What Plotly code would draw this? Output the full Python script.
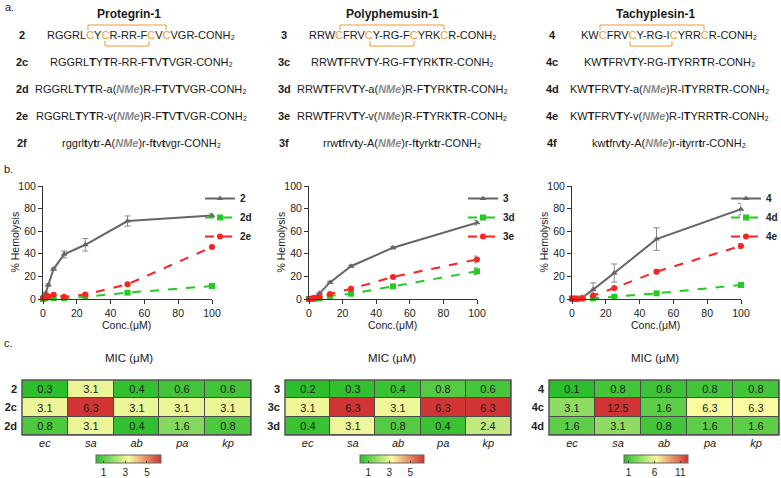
import plotly.graph_objects as go

W, H = 781, 478
FONT = "Liberation Sans, Arial, sans-serif"

def px(x):
    return x / W

def py(y):
    return 1 - y / H

# ---------------- data ----------------
peptides = ["Protegrin-1", "Polyphemusin-1", "Tachyplesin-1"]
row_ids = [["2", "2c", "2d", "2e", "2f"],
           ["3", "3c", "3d", "3e", "3f"],
           ["4", "4c", "4d", "4e", "4f"]]

OR = "<span style='color:#f39a2c'>C</span>"
NME = "(<span style='color:#8a8a8a'><b><i>NMe</i></b></span>)"
T = "<b>T</b>"
t = "<b>t</b>"
sequences = [
    ["RGGRL" + OR + "Y" + OR + "R-RR-F" + OR + "V" + OR + "VGR-CONH₂",
     "RGGRL" + T + "Y" + T + "R-RR-F" + T + "V" + T + "VGR-CONH₂",
     "RGGRL" + T + "Y" + T + "R-a" + NME + "R-F" + T + "V" + T + "VGR-CONH₂",
     "RGGRL" + T + "Y" + T + "R-v" + NME + "R-F" + T + "V" + T + "VGR-CONH₂",
     "rggrl" + t + "y" + t + "r-A" + NME + "r-f" + t + "v" + t + "vgr-CONH₂"],
    ["RRW" + OR + "FRV" + OR + "Y-RG-F" + OR + "YRK" + OR + "R-CONH₂",
     "RRW" + T + "FRV" + T + "Y-RG-F" + T + "YRK" + T + "R-CONH₂",
     "RRW" + T + "FRV" + T + "Y-a" + NME + "R-F" + T + "YRK" + T + "R-CONH₂",
     "RRW" + T + "FRV" + T + "Y-v" + NME + "R-F" + T + "YRK" + T + "R-CONH₂",
     "rrw" + t + "frv" + t + "y-A" + NME + "r-f" + t + "yrk" + t + "r-CONH₂"],
    ["KW" + OR + "FRV" + OR + "Y-RG-I" + OR + "YRR" + OR + "R-CONH₂",
     "KW" + T + "FRV" + T + "Y-RG-I" + T + "YRR" + T + "R-CONH₂",
     "KW" + T + "FRV" + T + "Y-a" + NME + "R-I" + T + "YRR" + T + "R-CONH₂",
     "KW" + T + "FRV" + T + "Y-v" + NME + "R-I" + T + "YRR" + T + "R-CONH₂",
     "kw" + t + "frv" + t + "y-A" + NME + "r-i" + t + "yrr" + t + "r-CONH₂"],
]

conc = [0, 1.5625, 3.125, 6.25, 12.5, 25, 50, 100]
hemo_names = [["2", "2d", "2e"], ["3", "3d", "3e"], ["4", "4d", "4e"]]
hemo_vals = [
    [[2, 5, 12.4, 26.5, 39.5, 48, 69, 74],
     [0, 0.5, 1.8, 0.8, 0.6, 2, 5.6, 11.5],
     [1, 1.5, 2.5, 3.8, 2, 4, 13, 46]],
    [[0, 0, 1, 5, 14.7, 29, 45.4, 67.5],
     [0, 0, 0, 0.5, 2.7, 4.7, 11.2, 24.5],
     [0, 0.5, 1, 1.5, 4.4, 9, 19.5, 35]],
    [[0, 0, 0, 1.5, 8.3, 23, 53, 79.4],
     [0.5, 0.5, 0.3, 0.5, 0.6, 2, 5, 12.4],
     [0, 0, 0, 0.5, 3, 9.7, 24.2, 47]],
]
hemo_err = [
    [[1, 1, 1, 1, 3, 5.5, 4.5, 1.5],
     [0, 0, 0, 0, 0, 0.5, 0.5, 1],
     [0, 0, 0, 0, 0.5, 0.5, 1, 1]],
    [[0, 0, 0, 0.5, 1, 1, 1, 2],
     [0, 0, 0, 0, 0.5, 0.5, 1, 3],
     [0, 0, 0, 0, 0.5, 1, 1, 3]],
    [[0, 0, 0, 1, 6, 8, 10, 5],
     [0, 0, 0, 0, 0, 0.5, 0.5, 1],
     [0, 0, 0, 0, 0.5, 1, 1.5, 2]],
]

strains = ["ec", "sa", "ab", "pa", "kp"]
mic_rows = [["2", "2c", "2d"], ["3", "3c", "3d"], ["4", "4c", "4d"]]
mic_vals = [
    [[0.3, 3.1, 0.4, 0.6, 0.6],
     [3.1, 6.3, 3.1, 3.1, 3.1],
     [0.8, 3.1, 0.4, 1.6, 0.8]],
    [[0.2, 0.3, 0.4, 0.8, 0.6],
     [3.1, 6.3, 3.1, 6.3, 6.3],
     [0.4, 3.1, 0.8, 0.4, 2.4]],
    [[0.1, 0.8, 0.6, 0.8, 0.8],
     [3.1, 12.5, 1.6, 6.3, 6.3],
     [1.6, 3.1, 0.8, 1.6, 1.6]],
]
cbar_ticks = [[1, 3, 5], [1, 3, 5], [1, 6, 11]]

# ---------------- layout geometry (pixels) ----------------
title_cx = [129, 392, 655]
label_cx = [22, 284, 552]
seq_cx = [141, 402, 669]
row_y = [35, 62, 89, 116, 143]
line_x = [(43, 212), (309, 477), (572, 741)]
line_y = (186, 299)
legend_x = [200, 463, 726]
heat_x = [(22, 251), (285, 511), (549, 779)]
heat_y = (380, 435)
cbar_cx = [128.5, 392, 656]
cbar_len = [65, 64, 64]
brackets = [((88, 166), (105, 149)), ((340, 444), (370, 414)), ((600, 704), (630, 672))]

styles = [dict(color="#666666", dash="solid", symbol="triangle-up"),
          dict(color="#22cc22", dash="dash", symbol="square"),
          dict(color="#ff2020", dash="dash", symbol="circle")]

colorscale = [[0, "rgb(44,190,44)"], [0.5, "rgb(250,250,160)"], [1, "rgb(208,52,52)"]]

fig = go.Figure()
annotations = []
shapes = []

def ann(text, x, y, size=11, xanchor="center", yanchor="middle", **kw):
    annotations.append(dict(text=text, x=px(x), y=py(y), xref="paper", yref="paper",
                            showarrow=False, xanchor=xanchor, yanchor=yanchor,
                            font=dict(family=FONT, size=size, color=kw.pop("color", "#1a1a1a")), **kw))

# panel letters
ann("a.", 3, 7, size=11, xanchor="left")
ann("b.", 2, 169, size=11, xanchor="left")
ann("c.", 2, 343, size=11, xanchor="left")

for p in range(3):
    # ---- panel a ----
    ann("<b>" + peptides[p] + "</b>", title_cx[p], 14, size=12)
    for r in range(5):
        ann("<b>" + row_ids[p][r] + "</b>", label_cx[p], row_y[r], size=11)
        ann(sequences[p][r], seq_cx[p], row_y[r], size=11)
    (tx0, tx1), (bx0, bx1) = brackets[p]
    shapes.append(dict(type="path", xref="paper", yref="paper",
                       path=f"M{px(tx0)},{py(30)} L{px(tx0)},{py(25)} L{px(tx1)},{py(25)} L{px(tx1)},{py(30)}",
                       line=dict(color="#f39a2c", width=1)))
    shapes.append(dict(type="path", xref="paper", yref="paper",
                       path=f"M{px(bx0)},{py(41)} L{px(bx0)},{py(46)} L{px(bx1)},{py(46)} L{px(bx1)},{py(41)}",
                       line=dict(color="#f39a2c", width=1)))

    # ---- panel b ----
    n = p + 1
    xa = "x" if n == 1 else f"x{n}"
    ya = "y" if n == 1 else f"y{n}"
    lg = "legend" if n == 1 else f"legend{n}"
    for s in range(3):
        st = styles[s]
        fig.add_trace(go.Scatter(
            x=conc, y=hemo_vals[p][s], xaxis=xa, yaxis=ya, legend=lg,
            name="<b>" + hemo_names[p][s] + "</b>", mode="lines+markers",
            line=dict(color=st["color"], dash=st["dash"], width=2),
            marker=dict(symbol=st["symbol"], size=6, color=st["color"]),
            error_y=dict(type="data", array=hemo_err[p][s], visible=True,
                         color="#8a8a8a", thickness=1, width=3),
            cliponaxis=False))
    axis_common = dict(showline=True, linecolor="#333333", linewidth=1, ticks="outside",
                       ticklen=4, tickcolor="#333333", showgrid=False, zeroline=False,
                       tickfont=dict(family=FONT, size=10.5, color="#222222"))
    fig.update_layout(**{
        ("xaxis" if n == 1 else f"xaxis{n}"): dict(domain=[px(line_x[p][0]), px(line_x[p][1])],
                                                   range=[0, 100], tickvals=[0, 20, 40, 60, 80, 100],
                                                   anchor=ya, **axis_common),
        ("yaxis" if n == 1 else f"yaxis{n}"): dict(domain=[py(line_y[1]), py(line_y[0])],
                                                   range=[0, 100], tickvals=[0, 20, 40, 60, 80, 100],
                                                   anchor=xa, **axis_common),
        lg: dict(x=px(legend_x[p]), y=py(184), xanchor="left", yanchor="top",
                 bgcolor="rgba(0,0,0,0)", font=dict(family=FONT, size=10, color="#222"),
                 tracegroupgap=0),
    })
    ann("% Hemolysis", line_x[p][0] - 29, (line_y[0] + line_y[1]) / 2, size=10.5, textangle=-90)
    ann("Conc.(μM)", (line_x[p][0] + line_x[p][1]) / 2 - 1, 325, size=10.5)

    # ---- panel c ----
    hn = p + 4
    hx, hy = f"x{hn}", f"y{hn}"
    z = mic_vals[p]
    zmin = min(min(r) for r in z)
    zmax = max(max(r) for r in z)
    fig.add_trace(go.Heatmap(
        z=z, x=strains, y=mic_rows[p], xaxis=hx, yaxis=hy,
        text=[[f"{v:.1f}" for v in r] for r in z], texttemplate="%{text}",
        textfont=dict(family=FONT, size=11, color="#1a1a1a"),
        colorscale=colorscale, zmin=zmin, zmax=zmax, xgap=1, ygap=1,
        colorbar=dict(orientation="h", x=px(cbar_cx[p]), xanchor="center",
                      y=py(455), yanchor="top", lenmode="pixels", len=cbar_len[p],
                      thickness=8, outlinewidth=1, outlinecolor="#666",
                      tickvals=cbar_ticks[p], ticks="inside", ticklen=2, tickcolor="#444",
                      tickfont=dict(family=FONT, size=10, color="#222"),
                      xpad=0, ypad=0, bgcolor="rgba(0,0,0,0)"),
        hoverinfo="skip"))
    fig.update_layout(**{
        f"xaxis{hn}": dict(domain=[px(heat_x[p][0]), px(heat_x[p][1])], anchor=hy,
                          type="category", tickvals=strains,
                          ticktext=["<i>" + s + "</i>" for s in strains],
                          showgrid=False, zeroline=False, showline=False, ticks="",
                          ticklabelstandoff=0,
                          tickfont=dict(family=FONT, size=11, color="#222")),
        f"yaxis{hn}": dict(domain=[py(heat_y[1]), py(heat_y[0])], anchor=hx,
                          type="category", autorange="reversed", tickvals=mic_rows[p],
                          ticktext=["<b>" + s + "</b>" for s in mic_rows[p]],
                          showgrid=False, zeroline=False, showline=False, ticks="",
                          ticklabelstandoff=4,
                          tickfont=dict(family=FONT, size=11, color="#222")),
    })
    shapes.append(dict(type="rect", xref=f"{hx} domain", yref=f"{hy} domain",
                       x0=0, x1=1, y0=0, y1=1, fillcolor="#4a4a4a",
                       line=dict(width=0), layer="below"))
    shapes.append(dict(type="rect", xref=f"{hx} domain", yref=f"{hy} domain",
                       x0=0, x1=1, y0=0, y1=1, line=dict(color="#555555", width=1.5),
                       layer="above"))
    ann("MIC (μM)", title_cx[p], 358, size=11.5)

fig.update_layout(width=W, height=H, margin=dict(l=0, r=0, t=0, b=0, autoexpand=False),
                  paper_bgcolor="white", plot_bgcolor="white",
                  annotations=annotations, shapes=shapes,
                  font=dict(family=FONT, color="#222"))

fig.write_html("out.html")
